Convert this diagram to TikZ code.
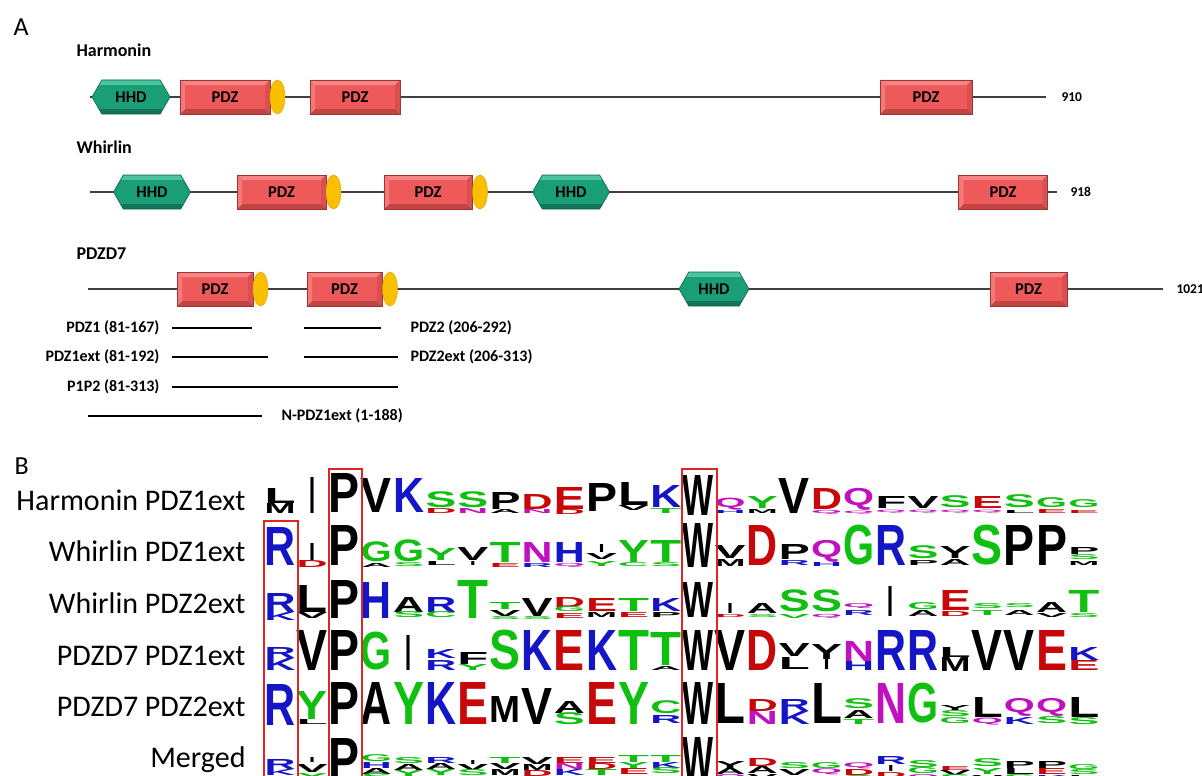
\documentclass[tikz,border=0pt]{standalone}
\usepackage{fontspec}
\setmainfont{Carlito}
\newfontfamily\logofont{Liberation Sans}
\usetikzlibrary{shapes.geometric,shapes.symbols}
\definecolor{pdzface}{HTML}{EE5A5A}
\definecolor{pdzlight}{HTML}{F58585}
\definecolor{pdzdark}{HTML}{C24545}
\definecolor{pdzside}{HTML}{D85050}
\definecolor{pdzedge}{HTML}{9E3434}
\definecolor{hhdface}{HTML}{1A9E78}
\definecolor{hhdlight}{HTML}{4CC49C}
\definecolor{hhddark}{HTML}{137558}
\definecolor{hhdedge}{HTML}{0E6348}
\definecolor{gold}{HTML}{F8C000}
\definecolor{golddark}{HTML}{E3A400}
\definecolor{cb}{HTML}{1515C8}
\definecolor{cg}{HTML}{10C010}
\definecolor{cr}{HTML}{C80808}
\definecolor{cm}{HTML}{C010C0}
\definecolor{ck}{HTML}{000000}
\definecolor{boxred}{HTML}{E02525}
\newcommand\LogoRow[2]{%
  \foreach \xc/\xb/\xh/\xk/\xl in {#2}{%
    \node[logo,text=\xk] at ({264+\xc*32.15+16},{#1-\xb})
      {\resizebox*{\if\xl I6pt\else 31pt\fi}{\xh pt}{\xl}};
  }%
}
\begin{document}
\begin{tikzpicture}[x=1pt,y=-1pt,
  backbone/.style={draw=black!75, line width=1.1pt},
  cline/.style={draw=black, line width=1.8pt},
  pdz/.style={draw=pdzedge, line width=0.6pt, fill=pdzface, minimum width=#1, minimum height=34,
    inner sep=0, font=\bfseries\fontsize{16.5}{16.5}\selectfont,
    path picture={
      \path (path picture bounding box.north west) coordinate (pa)
            (path picture bounding box.north east) coordinate (pb)
            (path picture bounding box.south east) coordinate (pc)
            (path picture bounding box.south west) coordinate (pd);
      \fill[pdzlight] (pa) -- (pb) -- ([xshift=-5pt,yshift=-5pt]pb) -- ([xshift=5pt,yshift=-5pt]pa) -- cycle;
      \fill[pdzdark] (pd) -- (pc) -- ([xshift=-5pt,yshift=5pt]pc) -- ([xshift=5pt,yshift=5pt]pd) -- cycle;
      \fill[pdzside] (pb) -- (pc) -- ([xshift=-5pt,yshift=5pt]pc) -- ([xshift=-5pt,yshift=-5pt]pb) -- cycle;
      \fill[pdzlight!70!pdzface] (pa) -- (pd) -- ([xshift=5pt,yshift=5pt]pd) -- ([xshift=5pt,yshift=-5pt]pa) -- cycle;
    }},
  hhd/.style={signal, signal to=west and east, signal pointer angle=120, draw=hhdedge, line width=0.6pt,
    fill=hhdface, minimum width=#1, minimum height=34, inner sep=0,
    font=\bfseries\fontsize{16.5}{16.5}\selectfont,
    path picture={
      \fill[hhdlight] ([yshift=-5pt]path picture bounding box.north west) rectangle (path picture bounding box.north east);
      \fill[hhddark] ([yshift=5pt]path picture bounding box.south west) rectangle (path picture bounding box.south east);
    }},
  pb/.style={ellipse, draw=golddark, line width=0.5pt, fill=gold, minimum width=15, minimum height=34, inner sep=0},
  title/.style={anchor=base west, font=\bfseries\fontsize{18}{18}\selectfont},
  len/.style={anchor=west, font=\bfseries\fontsize{13.5}{13.5}\selectfont},
  clab/.style={font=\bfseries\fontsize{16}{16}\selectfont},
  panel/.style={anchor=base west, font=\fontsize{26}{26}\selectfont},
  rowlab/.style={anchor=base east, font=\fontsize{30}{30}\selectfont},
  logo/.style={anchor=south, inner sep=0, outer sep=0, font=\logofont\bfseries},
  hl/.style={draw=boxred, line width=1.3pt}
]
\useasboundingbox[fill=white] (0,0) rectangle (1202,776);

% ---------------- Panel A ----------------
\node[panel] (pA) at (10,36) {A};

% Harmonin
\node[title] (tH) at (73,57) {Harmonin};
\coordinate (hs) at (90,97); \coordinate (he) at (1046,97);
\draw[backbone] (hs) -- (he);
\node[hhd=78] (h1) at (131,97) {HHD};
\node[pdz=90] (h2) at (225,97) {PDZ};
\node[pb] (h3) at (277.5,97) {};
\node[pdz=90] (h4) at (355,97) {PDZ};
\node[pdz=92] (h5) at (926,97) {PDZ};
\node[len] (hl) at (1058,97) {910};

% Whirlin
\node[title] (tW) at (73,153) {Whirlin};
\coordinate (ws) at (90,192); \coordinate (we) at (1057,192);
\draw[backbone] (ws) -- (we);
\node[hhd=77] (w1) at (152,192) {HHD};
\node[pdz=89] (w2) at (281.5,192) {PDZ};
\node[pb] (w3) at (333.5,192) {};
\node[pdz=88] (w4) at (428,192) {PDZ};
\node[pb] (w5) at (480,192) {};
\node[hhd=77] (w6) at (571,192) {HHD};
\node[pdz=89] (w7) at (1003,192) {PDZ};
\node[len] (wl) at (1067,192) {918};

% PDZD7
\node[title] (tP) at (73,259) {PDZD7};
\coordinate (ps) at (88,289); \coordinate (pe) at (1163,289);
\draw[backbone] (ps) -- (pe);
\node[pdz=76] (p1) at (215,289) {PDZ};
\node[pb] (p2) at (260.5,289) {};
\node[pdz=75] (p3) at (344.5,289) {PDZ};
\node[pb] (p4) at (390,289) {};
\node[hhd=70] (p5) at (714,289) {HHD};
\node[pdz=77] (p6) at (1028.5,289) {PDZ};
\node[len] (pl) at (1173,289) {1021};

% constructs
\node[clab, anchor=east] (c1) at (163,328) {PDZ1 (81-167)};
\coordinate (c1a) at (172,328); \coordinate (c1b) at (252,328);
\draw[cline] (c1a) -- (c1b);
\coordinate (c2a) at (304,328); \coordinate (c2b) at (381,328);
\draw[cline] (c2a) -- (c2b);
\node[clab, anchor=west] (c2) at (407,328) {PDZ2 (206-292)};

\node[clab, anchor=east] (c3) at (163,357) {PDZ1ext (81-192)};
\coordinate (c3a) at (172,357); \coordinate (c3b) at (268,357);
\draw[cline] (c3a) -- (c3b);
\coordinate (c4a) at (304,357); \coordinate (c4b) at (398,357);
\draw[cline] (c4a) -- (c4b);
\node[clab, anchor=west] (c4) at (407,357) {PDZ2ext (206-313)};

\node[clab, anchor=east] (c5) at (163,387) {P1P2 (81-313)};
\coordinate (c5a) at (172,387); \coordinate (c5b) at (398,387);
\draw[cline] (c5a) -- (c5b);

\coordinate (c6a) at (88,416); \coordinate (c6b) at (262,416);
\draw[cline] (c6a) -- (c6b);
\node[clab, anchor=west] (c6) at (278,416) {N-PDZ1ext (1-188)};

% ---------------- Panel B ----------------
\node[panel] (pB) at (11,474) {B};
\node[rowlab] (r1) at (249,510) {Harmonin PDZ1ext};
\node[rowlab] (r2) at (249,561) {Whirlin PDZ1ext};
\node[rowlab] (r3) at (249,613) {Whirlin PDZ2ext};
\node[rowlab] (r4) at (249,665) {PDZD7 PDZ1ext};
\node[rowlab] (r5) at (249,716) {PDZD7 PDZ2ext};
\node[rowlab] (r6) at (249,767) {Merged};

\begin{scope}
\clip (0,0) rectangle (1202,776);
% Harmonin PDZ1ext
\LogoRow{515}{0/12/15/ck/L, 0/2/10/ck/M, 1/2/36/ck/I, 2/3/39/ck/P, 3/3/34/ck/V, 4/3/34/cb/K,
 5/7/16/cg/S, 5/2/5/cr/D, 6/7/16/cg/S, 6/2/5/cm/N, 7/6/17/ck/P, 7/2/4/ck/A,
 8/6/15/cr/D, 8/2/4/cm/N, 9/6/22/cr/E, 9/1/5/cr/D, 10/4/28/ck/P, 11/10/23/ck/L, 11/5/5/ck/V,
 12/8/22/cb/K, 12/2/5/cg/T, 13/0/40/ck/W, 14/5/12/cm/Q, 14/2/3/cb/H, 15/7/12/cg/Y, 15/2/4/ck/M,
 16/2/35/ck/V, 17/6/21/cr/D, 17/1/4/cm/Q, 18/5/22/cm/Q, 18/1/3/cm/Q, 19/7/12/ck/F, 19/2/3/cm/Q,
 20/7/12/ck/V, 20/2/3/cm/Q, 21/7/12/cg/S, 21/2/3/cm/Q, 22/7/12/cr/E, 22/2/3/cm/Q,
 23/7/13/cg/S, 23/2/3/ck/L, 24/7/10/cg/G, 24/2/4/cr/E, 25/7/8/cg/G, 25/2/3/cr/E}
% Whirlin PDZ1ext
\LogoRow{568}{0/3/38/cb/R, 1/8/17/ck/I, 1/1/7/cr/D, 2/3/40/ck/P, 3/6/20/cg/G, 3/1/4/ck/A,
 4/6/22/cg/G, 4/1/4/cg/S, 5/8/12/cg/Y, 5/3/4/ck/L, 6/8/13/ck/V, 6/3/4/ck/I, 7/6/20/cg/T, 7/1/4/cr/E,
 8/6/20/cm/N, 8/1/4/cb/R, 9/6/20/cb/H, 9/1/4/cm/Q, 10/16/8/ck/I, 10/9/6/ck/V, 10/2/5/cg/Y,
 11/6/22/cg/Y, 11/1/4/cg/C, 12/6/22/cg/T, 12/1/4/cg/S, 13/1/44/ck/W, 14/10/13/ck/V, 14/2/7/ck/M,
 15/3/40/cr/D, 16/9/15/ck/P, 16/3/5/cb/R, 17/6/22/cm/Q, 17/2/4/cb/H, 18/3/40/cg/G, 19/3/40/cb/R,
 20/9/13/cg/S, 20/3/5/ck/P, 21/10/12/ck/Y, 21/3/6/ck/A, 22/3/40/cg/S, 23/3/40/ck/P, 24/3/40/ck/P,
 25/14/7/ck/P, 25/8/5/cg/S, 25/3/4/ck/M}
% Whirlin PDZ2ext
\LogoRow{621}{0/9/19/cb/R, 0/1/8/cb/K, 1/9/27/ck/L, 1/3/6/ck/V, 2/3/38/ck/P, 3/3/36/cb/H,
 4/9/15/ck/A, 4/3/6/cg/S, 5/9/15/cb/R, 5/3/6/cg/C, 6/3/38/cg/T, 7/12/7/cg/T, 7/5/6/ck/V, 7/1/3/cg/S,
 8/5/18/ck/V, 8/1/3/cg/S, 9/14/10/cr/D, 9/9/5/cg/G, 9/3/5/cr/E, 10/10/13/cr/E, 10/4/5/ck/M,
 11/10/13/cg/T, 11/4/5/cr/E, 12/10/13/cb/K, 12/4/5/ck/P, 13/4/35/ck/W, 14/8/10/ck/I, 14/4/3/cr/D,
 15/8/10/ck/A, 15/3/3/cg/S, 16/9/22/cg/S, 16/3/4/cg/V, 17/9/22/cg/S, 17/3/4/cm/Q,
 18/12/5/cm/Q, 18/6/5/cb/R, 19/5/30/ck/I, 20/11/7/cg/G, 20/5/6/ck/A, 21/11/20/cr/E, 21/5/5/cr/D,
 22/12/5/cg/S, 22/6/5/cg/T, 23/13/4/cg/S, 23/6/5/ck/A, 24/9/10/ck/A, 24/4/4/ck/V, 25/9/22/cg/T, 25/3/4/cg/S}
% PDZD7 PDZ1ext
\LogoRow{673}{0/15/11/cb/R, 0/3/12/cb/K, 1/3/40/ck/V, 2/3/40/ck/P, 3/3/38/cg/G, 4/3/35/ck/I,
 5/15/9/cb/K, 5/3/10/cb/R, 6/9/12/ck/F, 6/3/6/cg/Y, 7/3/40/cg/S, 8/3/40/cb/K, 9/3/40/cr/E,
 10/3/40/cb/K, 11/3/40/cg/T, 12/8/33/cg/T, 12/3/4/ck/A, 13/3/40/ck/W, 14/3/40/ck/V, 15/3/40/cr/D,
 16/17/13/ck/V, 16/4/12/ck/L, 17/14/15/ck/Y, 17/4/10/ck/I, 18/12/20/cm/N, 18/3/9/cb/H,
 19/3/40/cb/R, 20/3/40/cb/R, 21/16/10/ck/L, 21/2/14/ck/M, 22/3/40/ck/V, 23/3/40/ck/V,
 24/3/40/cr/E, 25/13/13/cb/K, 25/3/10/cr/E}
% PDZD7 PDZ2ext
\LogoRow{726}{0/1/41/cb/R, 1/7/28/cg/Y, 1/2/5/ck/L, 2/2/42/ck/P, 3/2/42/ck/A, 4/2/42/cg/Y,
 5/2/42/cb/K, 6/2/42/cr/E, 7/4/26/ck/M, 8/2/36/ck/V, 9/13/12/ck/A, 9/1/12/cg/S, 10/2/42/cr/E,
 11/2/42/cg/Y, 12/12/13/cg/C, 12/3/8/cb/R, 13/2/42/ck/W, 14/3/40/ck/L, 15/15/12/cr/D, 15/2/13/cm/N,
 16/15/12/cb/R, 16/2/13/cb/K, 17/3/40/ck/L, 18/17/10/cg/S, 18/8/8/ck/A, 18/2/5/cg/T,
 19/3/40/cm/N, 20/3/40/cg/G, 21/16/5/ck/Y, 21/9/6/cg/S, 21/2/6/cg/G, 22/9/20/ck/L, 22/1/7/cm/Q,
 23/10/18/cm/Q, 23/2/7/cb/K, 24/10/18/cm/Q, 24/2/7/cg/S, 25/9/20/ck/L, 25/1/7/cg/S}
% Merged
\LogoRow{784}{0/15/10/cb/R, 0/9/6/cb/K, 1/22/5/ck/I, 1/12/8/ck/V, 1/5/6/cg/Y, 2/4/42/ck/P,
 3/22/7/cg/G, 3/16/6/cb/H, 3/10/6/ck/A, 3/4/6/cg/S, 4/20/6/cg/S, 4/14/6/ck/A, 4/8/6/cg/Y,
 5/21/6/cb/R, 5/15/6/ck/A, 5/9/6/cg/Y, 6/20/4/ck/I, 6/14/6/ck/V, 6/8/6/cg/S,
 7/21/6/cg/T, 7/15/6/ck/V, 7/9/6/ck/M, 8/20/7/ck/V, 8/14/6/ck/M, 8/8/6/cr/D,
 9/21/6/cr/E, 9/15/6/cm/N, 9/9/6/cb/K, 10/21/6/cr/E, 10/15/6/cr/D, 10/9/6/cg/T,
 11/22/7/cg/T, 11/16/6/cg/Y, 11/10/6/cr/E, 12/22/7/cg/T, 12/16/6/cb/K, 12/10/6/cg/S,
 13/3/44/ck/W, 14/16/7/ck/Y, 14/10/6/ck/A, 14/4/5/cm/Q, 15/18/8/cr/D, 15/11/7/ck/A, 15/5/5/ck/V,
 16/15/6/cg/S, 16/9/6/ck/V, 16/3/5/cb/K, 17/15/6/cg/G, 17/9/6/cm/Q, 17/3/5/ck/P,
 18/15/6/cm/Q, 18/9/6/cr/D, 18/3/5/cg/S, 19/20/8/cb/R, 19/13/6/ck/I, 19/7/5/cr/D,
 20/16/7/cg/S, 20/10/6/cg/G, 20/4/5/cm/Q, 21/14/4/cr/E, 21/9/5/ck/V, 21/4/5/cg/S,
 22/17/8/cg/S, 22/10/6/cg/Y, 22/4/5/ck/V, 23/16/7/ck/P, 23/10/6/ck/L, 23/4/5/cg/S,
 24/16/7/ck/P, 24/10/6/cr/E, 24/4/5/cb/K, 25/14/5/cg/G, 25/9/5/cg/S, 25/4/5/ck/L}

% highlight boxes
\coordinate (bRa) at (264,777); \coordinate (bRb) at (264,521); \coordinate (bRc) at (298,521); \coordinate (bRd) at (298,777);
\draw[hl] (bRa) -- (bRb) -- (bRc) -- (bRd);
\coordinate (bPa) at (329,777); \coordinate (bPb) at (329,469); \coordinate (bPc) at (362,469); \coordinate (bPd) at (362,777);
\draw[hl] (bPa) -- (bPb) -- (bPc) -- (bPd);
\coordinate (bWa) at (682,777); \coordinate (bWb) at (682,469); \coordinate (bWc) at (717,469); \coordinate (bWd) at (717,777);
\draw[hl] (bWa) -- (bWb) -- (bWc) -- (bWd);
\end{scope}
\end{tikzpicture}
\end{document}
